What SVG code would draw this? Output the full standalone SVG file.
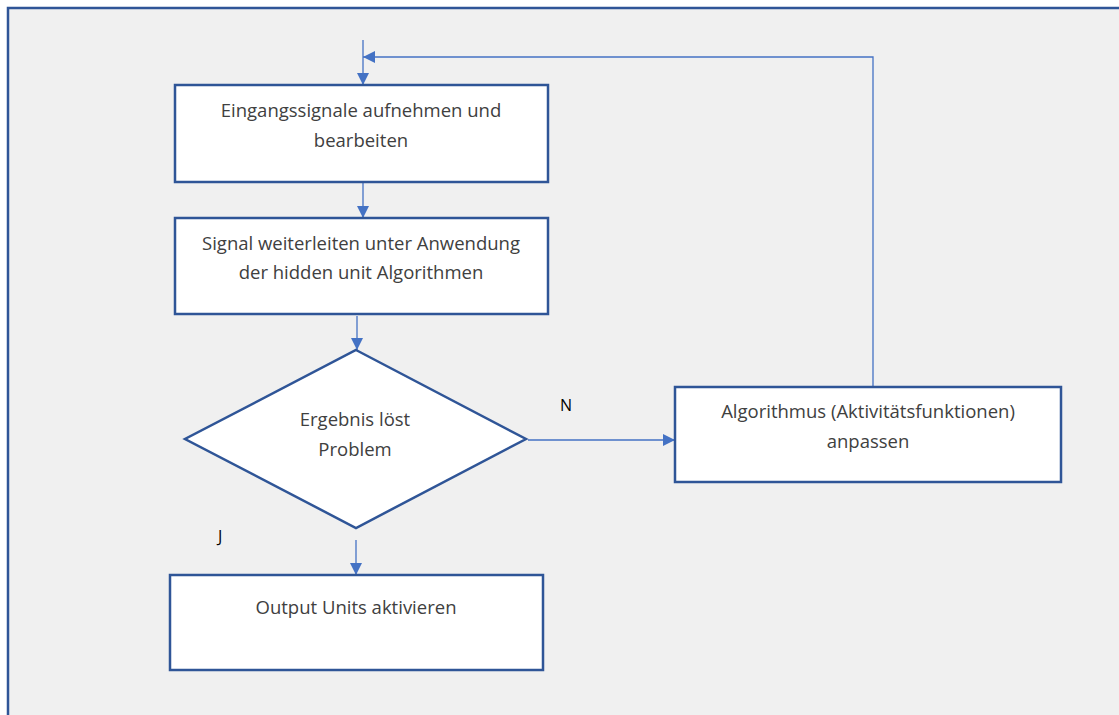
<svg xmlns="http://www.w3.org/2000/svg" width="1119" height="715" viewBox="0 0 1119 715">
<defs>
<marker id="ah" viewBox="0 0 10 10" refX="10" refY="5" markerWidth="12" markerHeight="12" markerUnits="userSpaceOnUse" orient="auto">
<path d="M0,0 L10,5 L0,10 z" fill="#4472C4"/>
</marker>
<style>
.box{fill:#FFFFFF;stroke:#2F5597;stroke-width:2.5}
.lbl{font-family:"Open Sans","Liberation Sans",sans-serif;font-size:18.5px;fill:#404040;text-anchor:middle}
.yn{font-family:"Open Sans","Liberation Sans",sans-serif;font-size:16px;fill:#000000}
.con{fill:none;stroke:#4472C4;stroke-width:1.3}
</style>
</defs>
<rect x="0" y="0" width="1119" height="715" fill="#FFFFFF"/>
<rect x="8" y="8" width="1125" height="720" fill="#F0F0F0" stroke="#2F5597" stroke-width="2.5"/>
<g id="connectors">
<path class="con" d="M363,40 V85" marker-end="url(#ah)"/>
<path class="con" d="M873,386 V57 H363" marker-end="url(#ah)"/>
<path class="con" d="M363,183 V218" marker-end="url(#ah)"/>
<path class="con" d="M357,316 V350" marker-end="url(#ah)"/>
<path class="con" d="M528,440 H675" marker-end="url(#ah)"/>
<path class="con" d="M356,540 V575" marker-end="url(#ah)"/>
<text class="yn" x="560" y="411">N</text>
<text class="yn" x="218" y="542">J</text>
</g>
<g id="node1">
<rect class="box" x="175" y="85" width="373" height="97"/>
<text class="lbl" x="361" y="117">Eingangssignale aufnehmen und</text>
<text class="lbl" x="361" y="147">bearbeiten</text>
</g>
<g id="node2">
<rect class="box" x="175" y="218" width="373" height="96"/>
<text class="lbl" x="361" y="250">Signal weiterleiten unter Anwendung</text>
<text class="lbl" x="361" y="279">der hidden unit Algorithmen</text>
</g>
<g id="node3">
<polygon class="box" points="356,350 526,439 356,528 185,439"/>
<text class="lbl" x="355" y="426">Ergebnis löst</text>
<text class="lbl" x="355" y="456">Problem</text>
</g>
<g id="node4">
<rect class="box" x="675" y="387" width="386" height="95"/>
<text class="lbl" x="868" y="418">Algorithmus (Aktivitätsfunktionen)</text>
<text class="lbl" x="868" y="448">anpassen</text>
</g>
<g id="node5">
<rect class="box" x="170" y="575" width="373" height="95"/>
<text class="lbl" x="356" y="614">Output Units aktivieren</text>
</g>
</svg>
